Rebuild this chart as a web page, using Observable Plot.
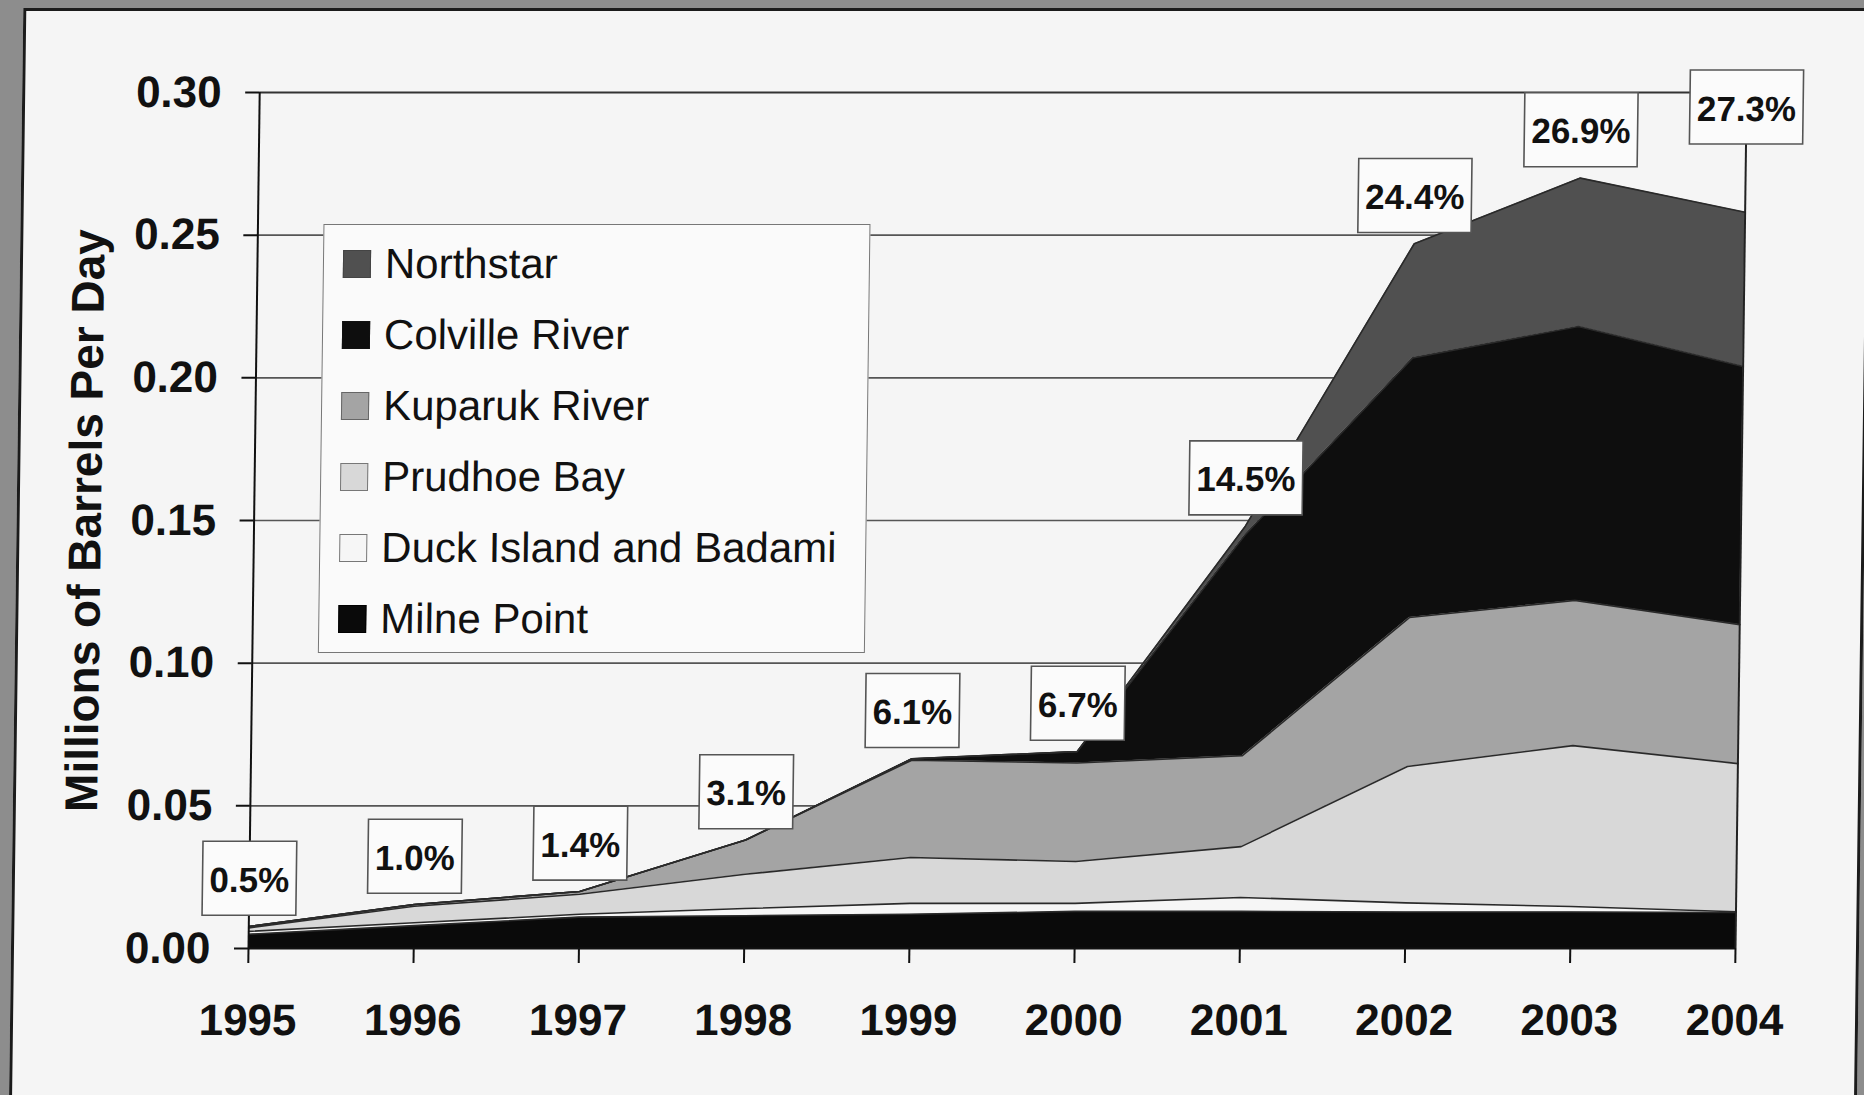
<!DOCTYPE html>
<html>
<head>
<meta charset="utf-8">
<script src="https://cdn.jsdelivr.net/npm/d3@7"></script>
<script src="https://cdn.jsdelivr.net/npm/@observablehq/plot@0.6"></script>
<style>
html,body{margin:0;padding:0;background:#8d8d8d;width:1864px;height:1095px;overflow:hidden;}
#chart{position:absolute;left:0;top:0;width:1864px;height:1095px;transform:skewX(-0.75deg);transform-origin:0 948px;}
#frame{position:absolute;left:11px;top:8px;width:1848px;height:1110px;border:3px solid #1b1b1b;background:#f5f5f5;box-sizing:border-box;}
#plot{position:absolute;left:0;top:0;}
#plot svg{background:transparent;max-width:none;}
#legend{position:absolute;left:314px;top:224px;width:547px;height:429px;box-sizing:border-box;border:1.5px solid #777;background:#fafafa;padding-top:3px;font-family:"Liberation Sans",Arial,sans-serif;font-size:42px;color:#111;}
.row{height:71px;display:flex;align-items:center;white-space:nowrap;}
.sw{width:28px;height:28px;margin-left:19px;margin-right:14px;box-sizing:border-box;border:1.5px solid #555;flex:none;}
</style>
</head>
<body>
<div id="chart">
  <div id="frame"></div>
  <div id="plot"></div>
  <div id="legend"></div>
</div>
<script>
// ---- data (millions of barrels per day) ----
const years = [1995, 1996, 1997, 1998, 1999, 2000, 2001, 2002, 2003, 2004];
const milnePoint       = [0.005, 0.008, 0.011, 0.0115, 0.012, 0.013, 0.013, 0.0128, 0.0128, 0.0126];
const duckIslandBadami = [0.001, 0.001, 0.001, 0.0025, 0.0038, 0.0028, 0.0049, 0.0032, 0.0019, 0.0003];
const prudhoeBay       = [0.0012, 0.0058, 0.007, 0.012, 0.0161, 0.0147, 0.0178, 0.0478, 0.0564, 0.0519];
const kuparukRiver     = [0.0005, 0.0006, 0.001, 0.012, 0.0341, 0.0345, 0.0319, 0.0522, 0.0509, 0.0487];
const colvilleRiver    = [0, 0, 0, 0, 0.0005, 0.004, 0.0774, 0.091, 0.096, 0.0905];
const northstar        = [0, 0, 0, 0, 0, 0, 0.003, 0.040, 0.052, 0.054];
const pctLabels = ["0.5%", "1.0%", "1.4%", "3.1%", "6.1%", "6.7%", "14.5%", "24.4%", "26.9%", "27.3%"];
const seriesOrder = ["Milne Point", "Duck Island and Badami", "Prudhoe Bay", "Kuparuk River", "Colville River", "Northstar"];
const seriesColors = ["#0a0a0a", "#f6f6f6", "#d8d8d8", "#a4a4a4", "#0e0e0e", "#505050"];
const yTicks = [0, 0.05, 0.10, 0.15, 0.20, 0.25, 0.30];
const yTitle = "Millions of Barrels Per Day";

const seriesValues = [milnePoint, duckIslandBadami, prudhoeBay, kuparukRiver, colvilleRiver, northstar];
const long = seriesOrder.flatMap((s, k) => years.map((year, i) => ({series: s, year, value: seriesValues[k][i]})));
const totals = years.map((_, i) => d3.sum(seriesValues, arr => arr[i]));
const labelData = years.map((year, i) => ({year, total: totals[i], label: pctLabels[i]}));

const FONT = '"Liberation Sans", Arial, Helvetica, sans-serif';

const svg = Plot.plot({
  width: 1864,
  height: 1095,
  marginLeft: 248,
  marginRight: 129,
  marginTop: 92,
  marginBottom: 147,
  style: {background: "transparent", fontFamily: FONT, color: "#111"},
  x: {type: "linear", domain: [1995, 2004], label: null},
  y: {domain: [0, 0.30], label: null},
  color: {type: "ordinal", domain: seriesOrder, range: seriesColors},
  marks: [
    Plot.ruleY(yTicks.filter(v => v > 0 && v < 0.3), {stroke: "#555", strokeWidth: 1.6}),
    Plot.ruleY([0.30], {stroke: "#333", strokeWidth: 2}),
    Plot.areaY(long, {x: "year", y: "value", z: "series", fill: "series", order: seriesOrder}),
    Plot.lineY(long, Plot.stackY2({x: "year", y: "value", z: "series", order: seriesOrder, stroke: "#2a2a2a", strokeWidth: 1.6})),
    Plot.ruleX([1995], {y1: 0, y2: 0.30, stroke: "#111", strokeWidth: 2}),
    Plot.ruleX([2004], {y1: 0, y2: 0.30, stroke: "#222", strokeWidth: 2}),
    Plot.ruleY([0], {stroke: "#111", strokeWidth: 2}),
    Plot.axisX({ticks: years, tickFormat: d => String(d), tickSize: 15, tickPadding: 40, fontSize: 44, fontWeight: "bold", strokeWidth: 2, label: null}),
    Plot.axisY({ticks: yTicks, tickFormat: d => d.toFixed(2), tickSize: 14, tickPadding: 24, fontSize: 44, fontWeight: "bold", strokeWidth: 2, label: null}),
    Plot.text([yTitle], {text: d => d, frameAnchor: "left", textAnchor: "middle", dx: -168, rotate: -90, fontSize: 46, fontWeight: "bold", fill: "#111"}),
    Plot.text(labelData.filter(d => d.year !== 2004), {x: "year", y: "total", text: "label", dy: -46, fontSize: 35, fontWeight: "bold", fill: "#111"}),
    Plot.text(labelData.filter(d => d.year === 2004), {x: "year", y: "total", text: "label", dy: -103, fontSize: 35, fontWeight: "bold", fill: "#111"})
  ]
});
document.getElementById("plot").appendChild(svg);

// boxes behind the percentage labels
const NS = "http://www.w3.org/2000/svg";
svg.querySelectorAll("text").forEach(t => {
  if (!pctLabels.includes(t.textContent.trim())) return;
  const bb = t.getBBox();
  const w = bb.width + 14, h = 74;
  const cx = bb.x + bb.width / 2, cy = bb.y + bb.height / 2 - 1;
  const r = document.createElementNS(NS, "rect");
  r.setAttribute("x", cx - w / 2);
  r.setAttribute("y", cy - h / 2);
  r.setAttribute("width", w);
  r.setAttribute("height", h);
  r.setAttribute("fill", "#fbfbfb");
  r.setAttribute("stroke", "#555");
  r.setAttribute("stroke-width", "1.6");
  if (t.getAttribute("transform")) r.setAttribute("transform", t.getAttribute("transform"));
  t.parentNode.insertBefore(r, t);
});

// legend (inside the plot, top to bottom)
const legendBorders = {"Northstar": "#444", "Colville River": "#111", "Kuparuk River": "#666", "Prudhoe Bay": "#777", "Duck Island and Badami": "#777", "Milne Point": "#000"};
const legend = document.getElementById("legend");
seriesOrder.slice().reverse().forEach(s => {
  const row = document.createElement("div");
  row.className = "row";
  const sw = document.createElement("div");
  sw.className = "sw";
  sw.style.background = seriesColors[seriesOrder.indexOf(s)];
  sw.style.borderColor = legendBorders[s];
  const lab = document.createElement("span");
  lab.textContent = s;
  row.appendChild(sw);
  row.appendChild(lab);
  legend.appendChild(row);
});
</script>
</body>
</html>
